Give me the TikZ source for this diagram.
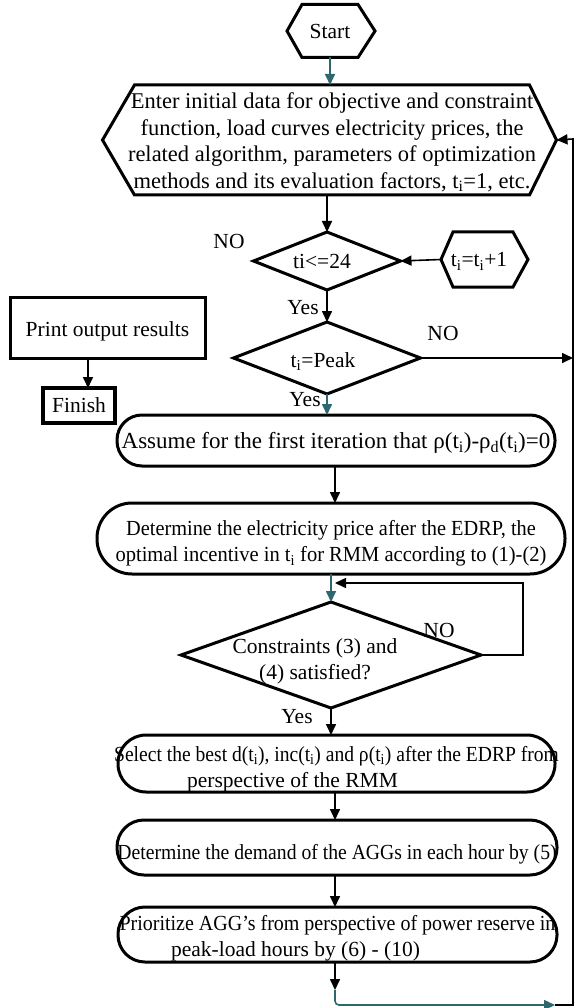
\documentclass[tikz,border=0pt]{standalone}
\usepackage{fontspec}
\usepackage{graphicx}
\setmainfont{Liberation Serif}
\usetikzlibrary{arrows.meta,calc,shapes.geometric}
\definecolor{teal1}{RGB}{44,104,110}
\newcommand{\sbi}{\textsubscript{i}}
\newcommand{\ctxt}[2][0pt]{\makebox[0pt]{\smash{\raisebox{\dimexpr-0.25em-#1\relax}{\begin{tabular}{@{}c@{}}#2\end{tabular}}}}}
\newcommand{\hs}[2]{\scalebox{#1}[1]{#2}}
\begin{document}
\begin{tikzpicture}[x=1pt,y=-1pt,
  every node/.style={font=\fontsize{21.5}{26}\selectfont, inner sep=0pt, outer sep=0pt},
  plain/.style={rectangle},
  hexline/.style={draw, line width=3pt, line join=miter},
  dia/.style={diamond, draw, line width=3pt},
  pill/.style={rectangle, draw, line width=3pt},
  sqbox/.style={rectangle, draw, line width=3pt},
  conn/.style={line width=1.6pt},
  arr/.style={conn, -{Triangle[length=11pt,width=10pt]}},
  tarr/.style={arr, draw=teal1},
  lbl/.style={}
]
\useasboundingbox (0,0) rectangle (576,1008);

% Start
\node[plain, minimum width=56pt, minimum height=53pt] (start) at (330,31) {\ctxt[2pt]{Start}};
\coordinate (startL) at ($(start.west)+(-15,0)$);
\coordinate (startR) at ($(start.east)+(17,0)$);
\draw[hexline] (start.north west) -- (start.north east) -- (startR) -- (start.south east) -- (start.south west) -- (startL) -- cycle;

% Init
\node[plain, minimum width=395pt, minimum height=110pt, font=\fontsize{22.5}{26.5}\selectfont] (init) at (332,140) {\ctxt[3pt]{Enter initial data for objective and constraint\\function, load curves electricity prices, the\\related algorithm, parameters of optimization\\methods and its evaluation factors, t\sbi=1, etc.}};
\coordinate (initL) at ($(init.west)+(-32,0)$);
\coordinate (initR) at ($(init.east)+(27,0)$);
\draw[hexline] (init.north west) -- (init.north east) -- (initR) -- (init.south east) -- (init.south west) -- (initL) -- cycle;

% ti <= 24
\node[dia, minimum width=147pt, minimum height=58pt] (d1) at (327,261) {\ctxt[2pt]{ti<=24\hspace*{10pt}}};
% ti = ti + 1
\node[plain, minimum width=60pt, minimum height=55pt] (tinc) at (483,259.5) {\ctxt[2pt]{t\sbi=t\sbi+1\hspace*{8pt}}};
\coordinate (tincL) at ($(tinc.west)+(-12,0)$);
\coordinate (tincR) at ($(tinc.east)+(15,0)$);
\draw[hexline] (tinc.north west) -- (tinc.north east) -- (tincR) -- (tinc.south east) -- (tinc.south west) -- (tincL) -- cycle;

% ti = Peak
\node[dia, minimum width=187pt, minimum height=72pt] (d2) at (327,358) {\ctxt[4pt]{t\sbi=Peak\hspace*{8pt}}};

% Print / Finish
\node[sqbox, minimum width=195pt, minimum height=61pt] (prt) at (107.5,327.5) {\ctxt[4pt]{Print output results}};
\node[sqbox, line width=3.5pt, minimum width=72pt, minimum height=35pt] (fin) at (79,405.5) {\ctxt[2pt]{Finish}};

% Process boxes
\node[pill, rounded corners=25pt, minimum width=438pt, minimum height=51pt, font=\fontsize{23}{27}\selectfont] (b1) at (336,440.5) {\ctxt[3pt]{Assume for the first iteration that ρ(t\sbi)-ρ\textsubscript{d}(t\sbi)=0}};
\node[pill, rounded corners=35pt, minimum width=468pt, minimum height=71pt] (b2) at (331,538.5) {\ctxt[5pt]{\hs{0.945}{Determine the electricity price after the EDRP, the}\\\hs{0.955}{optimal incentive in t\sbi{} for RMM according to (1)-(2)}}};
\node[dia, minimum width=300pt, minimum height=106pt] (d3) at (331,655) {\ctxt[6pt]{Constraints (3) and\hspace*{32pt}\\(4) satisfied?\hspace*{32pt}}};
\node[pill, rounded corners=28pt, minimum width=437pt, minimum height=57pt] (b3) at (336.5,763.5) {\ctxt[5.5pt]{\hs{0.91}{Select the best d(t\sbi), inc(t\sbi) and ρ(t\sbi) after the EDRP from}\\perspective of the RMM\hspace*{88pt}}};
\node[pill, rounded corners=27pt, minimum width=440pt, minimum height=55pt] (b4) at (337,847.5) {\ctxt[7pt]{\hs{0.915}{Determine the demand of the AGGs in each hour by (5)}}};
\node[pill, rounded corners=27pt, minimum width=439pt, minimum height=55pt] (b5) at (337.5,934.5) {\ctxt[4pt]{\hs{0.93}{Prioritize AGG’s from perspective of power reserve in}\\peak-load hours by (6) - (10)\hspace*{84pt}}};

% Labels
\node[lbl] (no1) at (229,241) {NO};
\node[lbl] (yes1) at (303,308) {Yes};
\node[lbl] (no2) at (443,333) {NO};
\node[lbl] (yes2) at (305,400) {Yes};
\node[lbl] (no3) at (439,630) {NO};
\node[lbl] (yes3) at (297,717) {Yes};

% Helper coordinates
\coordinate (rx) at (573,139);
\coordinate (rb) at (573,1005);
\coordinate (lp) at (523,583);
\coordinate (lpend) at (335,583);
\coordinate (bend) at (335,990);
\coordinate (tealend) at (555,1005);

% Connectors
\draw[tarr] (start.south) -- (start.south |- init.north);
\draw[arr] (d1.north |- init.south) -- (d1.north);
\draw[arr] (tincL) -- (d1.east);
\draw[arr] (d1.south) -- (d2.north);
\draw[arr] (d2.east) -- (d2.east -| rx);
\draw[tarr] (d2.south) -- (d2.south |- b1.north);
\draw[arr] (bend |- b1.south) -- (bend |- b2.north);
\draw[tarr] (d3.north |- b2.south) -- (d3.north);
\draw[arr] (d3.east) -- (d3.east -| lp) -- (lp) -- (lpend);
\draw[arr] (d3.south) -- (d3.south |- b3.north);
\draw[arr] (bend |- b3.south) -- (bend |- b4.north);
\draw[arr] (bend |- b4.south) -- (bend |- b5.north);
\draw[arr] (bend |- b5.south) -- (bend);
\draw[tarr, rounded corners=4pt] (bend) -- (bend |- rb) -- (tealend);
\draw[arr] (tealend) -- (rb) -- (rx) -- (initR);
\draw[arr] ([xshift=9pt]fin.north |- prt.south) -- ([xshift=9pt]fin.north);
\end{tikzpicture}
\end{document}
